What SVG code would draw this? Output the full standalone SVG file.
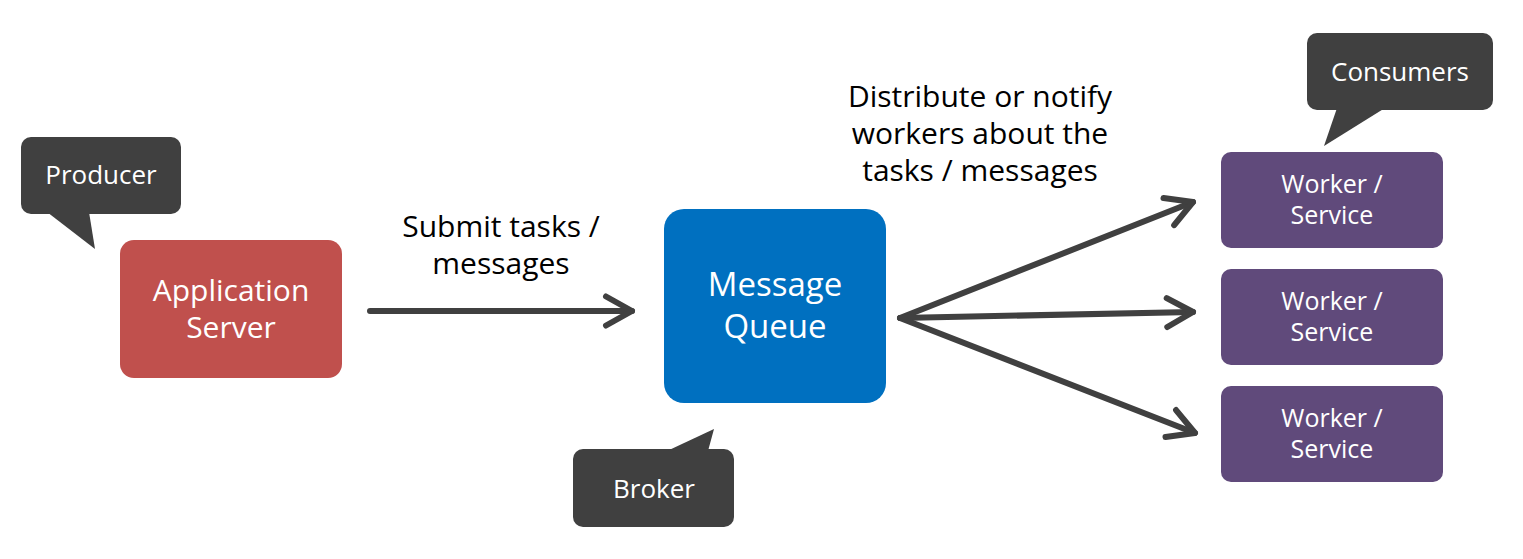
<svg xmlns="http://www.w3.org/2000/svg" width="1523" height="559" viewBox="0 0 1523 559">
<style>
text{font-family:"Open Sans","Noto Sans","DejaVu Sans",sans-serif;text-anchor:middle}
.bub{fill:#404040}
.bt{fill:#ffffff;font-size:26px}
.nt{fill:#ffffff}
.lbl{fill:#000000;font-size:30px}
.conn{stroke:#404040;stroke-width:6;fill:none;stroke-linecap:round}
</style>
<defs>
<marker id="arr" markerUnits="userSpaceOnUse" viewBox="-32 -20 40 40" refX="0" refY="0" markerWidth="40" markerHeight="40" orient="auto" overflow="visible">
<path d="M-26,-14.5 L0,0 L-26,14.5" fill="none" stroke="#404040" stroke-width="6" stroke-linecap="round" stroke-linejoin="round"/>
</marker>
</defs>
<rect width="1523" height="559" fill="#ffffff"/>
<g id="producer">
<rect class="bub" x="21" y="137" width="160" height="77" rx="10"/>
<polygon class="bub" points="47,212 95,249 89,212"/>
<text class="bt" x="101" y="184">Producer</text>
</g>
<g id="app-server">
<rect x="120" y="240" width="222" height="138" rx="14" fill="#C0504D"/>
<text class="nt" font-size="30"><tspan x="231" y="301">Application</tspan><tspan x="231" y="338">Server</tspan></text>
</g>
<g id="message-queue">
<rect x="664" y="209" width="222" height="194" rx="20" fill="#0070C0"/>
<text class="nt" font-size="33"><tspan x="775" y="296">Message</tspan><tspan x="775" y="338">Queue</tspan></text>
</g>
<g id="broker">
<rect class="bub" x="573" y="449" width="161" height="78" rx="10"/>
<polygon class="bub" points="667,451 714,429 708,451"/>
<text class="bt" x="654" y="498">Broker</text>
</g>
<g id="consumers">
<rect class="bub" x="1307" y="33" width="186" height="77" rx="10"/>
<polygon class="bub" points="1337,108 1324,146 1385,108"/>
<text class="bt" x="1400" y="81">Consumers</text>
</g>
<g id="worker1">
<rect x="1221" y="152" width="222" height="96" rx="10" fill="#604A7B"/>
<text class="nt" font-size="25"><tspan x="1332" y="193">Worker /</tspan><tspan x="1332" y="224">Service</tspan></text>
</g>
<g id="worker2">
<rect x="1221" y="269" width="222" height="96" rx="10" fill="#604A7B"/>
<text class="nt" font-size="25"><tspan x="1332" y="310">Worker /</tspan><tspan x="1332" y="341">Service</tspan></text>
</g>
<g id="worker3">
<rect x="1221" y="386" width="222" height="96" rx="10" fill="#604A7B"/>
<text class="nt" font-size="25"><tspan x="1332" y="427">Worker /</tspan><tspan x="1332" y="458">Service</tspan></text>
</g>
<g id="connectors">
<line class="conn" x1="370" y1="311" x2="632" y2="311" marker-end="url(#arr)"/>
<line class="conn" x1="900" y1="318" x2="1193" y2="202" marker-end="url(#arr)"/>
<line class="conn" x1="900" y1="318" x2="1193" y2="312" marker-end="url(#arr)"/>
<line class="conn" x1="900" y1="318" x2="1195" y2="433" marker-end="url(#arr)"/>
</g>
<g id="labels">
<text class="lbl"><tspan x="501" y="237">Submit tasks /</tspan><tspan x="501" y="274">messages</tspan></text>
<text class="lbl"><tspan x="980" y="107">Distribute or notify</tspan><tspan x="980" y="144">workers about the</tspan><tspan x="980" y="181">tasks / messages</tspan></text>
</g>
</svg>
